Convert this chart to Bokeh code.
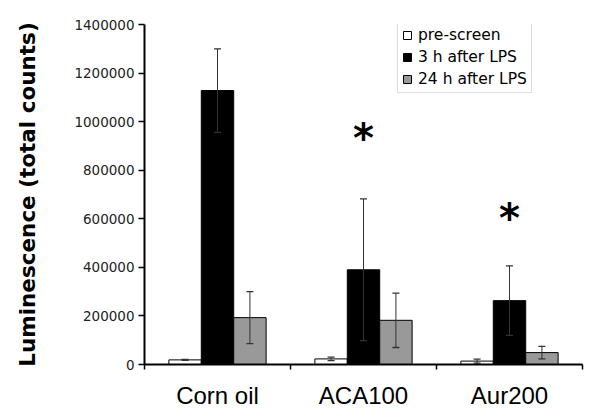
from bokeh.plotting import figure
from bokeh.models import (ColumnDataSource, Range1d, LinearAxis, FixedTicker,
                          Legend, LegendItem, BasicTickFormatter)
from bokeh.transform import dodge
from bokeh.core.properties import value
from bokeh.embed import file_html
from bokeh.resources import INLINE

categories = ["Corn oil", "ACA100", "Aur200"]
series = ["pre-screen", "3 h after LPS", "24 h after LPS"]
pre = [19000, 23000, 14000]
pre_err = [2000, 7000, 8000]
lps3 = [1128000, 390000, 263000]
lps3_err = [172000, 292000, 143000]
lps24 = [193000, 182000, 49000]
lps24_err = [107000, 112000, 26000]
y_ticks = [0, 200000, 400000, 600000, 800000, 1000000, 1200000, 1400000]
sig_groups = ["ACA100", "Aur200"]
sig_y = [933000, 605000]

fills = ["#ffffff", "#000000", "#999999"]
offsets = [-0.222, 0.0, 0.222]
bar_w = 0.222
cap = 0.024

# category centres on a numeric axis (one unit per category)
centres = [i + 0.5 for i in range(len(categories))]
boundaries = [float(i) for i in range(len(categories) + 1)]

src = ColumnDataSource(dict(
    x=centres,
    v0=pre, v1=lps3, v2=lps24,
    lo0=[v - e for v, e in zip(pre, pre_err)], hi0=[v + e for v, e in zip(pre, pre_err)],
    lo1=[v - e for v, e in zip(lps3, lps3_err)], hi1=[v + e for v, e in zip(lps3, lps3_err)],
    lo2=[v - e for v, e in zip(lps24, lps24_err)], hi2=[v + e for v, e in zip(lps24, lps24_err)],
))

p = figure(width=592, height=416, output_backend="svg", toolbar_location=None,
           x_range=Range1d(0, len(categories)), y_range=Range1d(0, 1400000),
           x_axis_location=None,
           min_border_left=144, min_border_right=10, min_border_top=24,
           min_border_bottom=52)
p.grid.visible = False
p.outline_line_color = None
p.background_fill_color = "white"
p.border_fill_color = "white"

# y axis
ya = p.yaxis[0]
ya.ticker = FixedTicker(ticks=y_ticks)
ya.formatter = BasicTickFormatter(use_scientific=False)
ya.axis_line_width = 2
ya.axis_line_color = "black"
ya.major_tick_out = 6
ya.major_tick_in = 0
ya.major_tick_line_width = 1.5
ya.minor_tick_line_color = None
ya.major_label_text_font = "DejaVu Sans"
ya.major_label_text_font_size = "13.5px"
ya.major_label_text_color = "#222222"
ya.major_label_standoff = 4
ya.axis_label = "Luminescence (total counts)"
ya.axis_label_text_font = "DejaVu Sans"
ya.axis_label_text_font_style = "bold"
ya.axis_label_text_font_size = "21.5px"
ya.axis_label_text_color = "black"
ya.axis_label_standoff = 31

# x axis: labels at category centres, tick marks (minor) at category boundaries
xa = LinearAxis(ticker=FixedTicker(ticks=centres, minor_ticks=boundaries),
                major_label_overrides={c: n for c, n in zip(centres, categories)})
xa.axis_line_width = 2
xa.axis_line_color = "black"
xa.major_tick_line_color = None
xa.major_tick_out = 0
xa.major_tick_in = 0
xa.minor_tick_line_color = "black"
xa.minor_tick_line_width = 1.5
xa.minor_tick_out = 5
xa.minor_tick_in = 0
xa.major_label_text_font = "Liberation Sans"
xa.major_label_text_font_size = "24px"
xa.major_label_text_color = "black"
xa.major_label_standoff = 12
p.add_layout(xa, "below")

renderers = []
for i in range(3):
    r = p.vbar(x=dodge("x", offsets[i]), top=f"v{i}", width=bar_w,
               source=src, fill_color=fills[i], line_color="black", line_width=1)
    renderers.append(r)

for i in range(3):
    p.segment(x0=dodge("x", offsets[i]), y0=f"lo{i}",
              x1=dodge("x", offsets[i]), y1=f"hi{i}",
              source=src, line_color="#333333", line_width=1)
    for end in ("lo", "hi"):
        p.segment(x0=dodge("x", offsets[i] - cap), y0=f"{end}{i}",
                  x1=dodge("x", offsets[i] + cap), y1=f"{end}{i}",
                  source=src, line_color="#333333", line_width=1.3)

sig_src = ColumnDataSource(dict(x=[centres[categories.index(g)] for g in sig_groups],
                                y=sig_y, t=["*"] * len(sig_groups)))
p.text(x="x", y="y", text="t", source=sig_src, text_font=value("DejaVu Sans"),
       text_font_style="bold", text_font_size="40px", text_align="center",
       text_baseline="middle", text_color="black")

legend = Legend(items=[LegendItem(label=series[i], renderers=[renderers[i]]) for i in range(3)],
                location=(253, 271))
legend.glyph_width = 10
legend.glyph_height = 10
legend.label_standoff = 6
legend.padding = 4
legend.margin = 0
legend.spacing = 4
legend.label_height = 18
legend.label_text_font = "DejaVu Sans"
legend.label_text_font_size = "15.5px"
legend.label_text_color = "black"
legend.border_line_color = "#bbbbbb"
legend.border_line_width = 1
legend.background_fill_color = "white"
legend.background_fill_alpha = 1
p.add_layout(legend, "center")

open("out.html", "w").write(file_html(p, INLINE))
